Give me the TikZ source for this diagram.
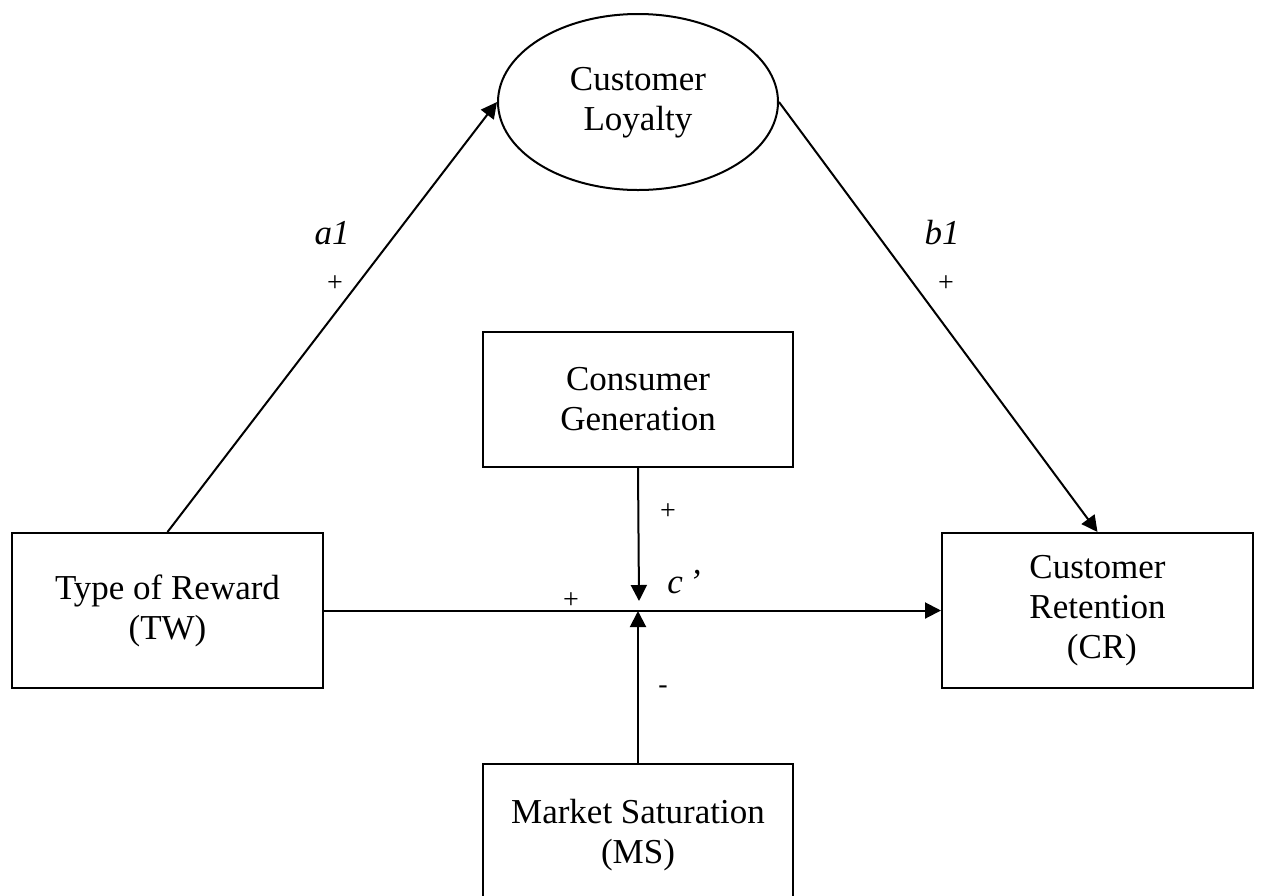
\documentclass[tikz,border=0pt]{standalone}
\usepackage{fontspec}
\setmainfont{Liberation Serif}
\usetikzlibrary{arrows.meta,shapes.geometric,calc}
\begin{document}
\begin{tikzpicture}[x=1pt,y=-1pt,
  every node/.style={font=\fontsize{35}{40}\selectfont},
  boxnode/.style={draw,line width=2pt,align=center,inner sep=0pt},
  sign/.style={inner sep=0pt,font=\fontsize{28}{32}\selectfont},
  pathlbl/.style={inner sep=0pt,font=\fontsize{35}{40}\selectfont\itshape},
  conn/.style={line width=2pt,-{Triangle[length=16pt,width=16pt]}}]
\useasboundingbox (0,0) rectangle (1261,895);
% nodes
\node[draw,line width=2pt,ellipse,minimum width=280pt,minimum height=176pt,inner sep=0pt] (cl) at (638,102) {};
\node[align=center,inner sep=0pt] (cltext) at (638,103) {Customer\\Loyalty};
\node[boxnode,minimum width=311pt,minimum height=155pt] (tw) at (167.5,610.5) {Type of Reward\\(TW)};
\node[boxnode,minimum width=311pt,minimum height=155pt] (cr) at (1097.5,610.5) {Customer\\Retention\\~(CR)};
\node[boxnode,minimum width=310pt,minimum height=135pt] (cg) at (638,399.5) {Consumer\\Generation};
\node[boxnode,minimum width=310pt,minimum height=142pt] (ms) at (638,835) {Market Saturation\\(MS)};
\coordinate (jt) at (639,601);
\coordinate (jb) at (638,611);
% connectors
\draw[conn] (tw.north) -- (cl.west);
\draw[conn] (cl.east) -- (cr.north);
\draw[conn] (tw.east) -- (cr.west);
\draw[conn] (cg.south) -- (jt);
\draw[conn] (ms.north) -- (jb);
% labels
\node[pathlbl] (la1) at (332,233) {a1};
\node[sign] (pa1) at (335,284) {+};
\node[pathlbl] (lb1) at (942,233) {b1};
\node[sign] (pb1) at (946,284) {+};
\node[sign] (pcg) at (668,512) {+};
\node[pathlbl] (lc) at (684,582) {c\,’};
\node[sign] (ptw) at (571,601) {+};
\node[sign] (pms) at (663,690) {-};
\end{tikzpicture}
\end{document}
